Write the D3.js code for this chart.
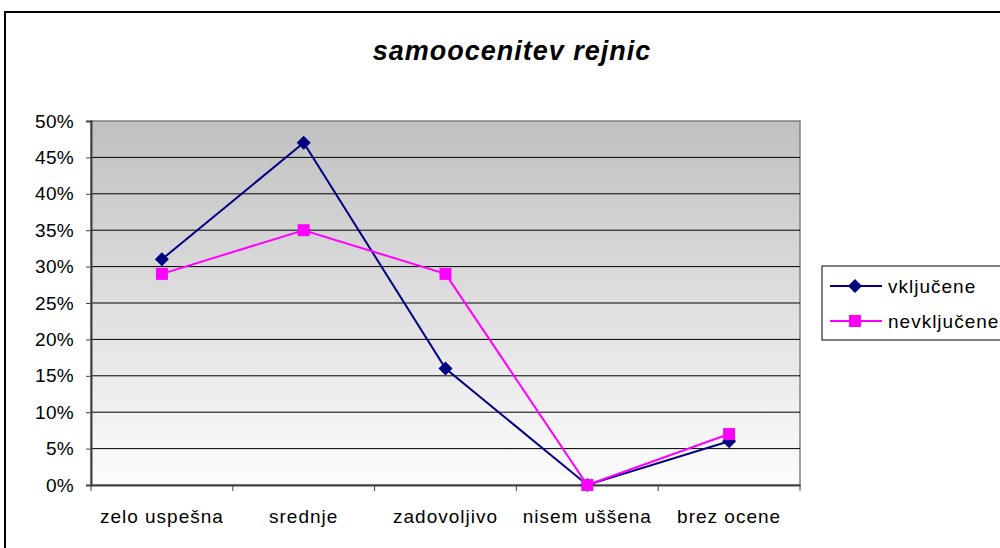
<!DOCTYPE html>
<html>
<head>
<meta charset="utf-8">
<script src="https://cdn.jsdelivr.net/npm/d3@7"></script>
<style>
  body { margin: 0; background: #fff; }
  svg { display: block; font-family: "Liberation Sans", Arial, sans-serif; }
</style>
</head>
<body>
<script>
const categories = ["zelo uspešna", "srednje", "zadovoljivo", "nisem uššena", "brez ocene"]
const vkljucene = [31, 47, 16, 0, 6]
const nevkljucene = [29, 35, 29, 0, 7]
const yTicks = [0, 5, 10, 15, 20, 25, 30, 35, 40, 45, 50]

const series = [
  {name: "vključene", values: vkljucene, color: "#000080", marker: "diamond"},
  {name: "nevključene", values: nevkljucene, color: "#ff00ff", marker: "square"}
]

const width = 1000, height = 548
const plot = {left: 91, right: 800, top: 121, bottom: 485}

const svg = d3.select("body").append("svg")
  .attr("width", width)
  .attr("height", height)

// outer frame
svg.append("rect")
  .attr("x", 5).attr("y", 12)
  .attr("width", 1000).attr("height", 560)
  .attr("fill", "#fff")
  .attr("stroke", "#000")
  .attr("stroke-width", 2)

// gradient background
let grad = svg.append("defs").append("linearGradient")
  .attr("id", "bg").attr("x1", 0).attr("y1", 0).attr("x2", 0).attr("y2", 1)
grad.append("stop").attr("offset", "0%").attr("stop-color", "#c0c0c0")
grad.append("stop").attr("offset", "100%").attr("stop-color", "#fdfdfd")

svg.append("rect")
  .attr("x", plot.left).attr("y", plot.top)
  .attr("width", plot.right - plot.left).attr("height", plot.bottom - plot.top)
  .attr("fill", "url(#bg)")
  .attr("stroke", "#808080")
  .attr("stroke-width", 1.5)

svg.append("text")
  .text("samoocenitev rejnic")
  .attr("x", 512).attr("y", 60)
  .attr("text-anchor", "middle")
  .attr("font-size", "27px")
  .attr("letter-spacing", "1px")
  .attr("font-weight", "bold")
  .attr("font-style", "italic")

let x = d3.scaleBand().domain(categories).range([plot.left, plot.right])
let y = d3.scaleLinear().domain([0, 50]).range([plot.bottom, plot.top])

// gridlines
svg.append("g")
  .selectAll("line")
  .data(yTicks.slice(1, -1))
  .enter()
  .append("line")
  .attr("x1", plot.left).attr("x2", plot.right)
  .attr("y1", d => y(d)).attr("y2", d => y(d))
  .attr("stroke", "#000")
  .attr("stroke-width", 1)

// y axis
let yAxis = svg.append("g")
  .attr("transform", "translate(" + plot.left + ",0)")
  .call(d3.axisLeft(y).tickValues(yTicks).tickSize(5).tickPadding(12).tickFormat(d => d + "%"))
yAxis.select(".domain").attr("stroke", "#404040").attr("stroke-width", 2)
yAxis.selectAll(".tick line").attr("stroke", "#404040")
yAxis.selectAll("text").attr("font-size", "19px").attr("fill", "#000")
  .attr("letter-spacing", "0.3px")
  .attr("font-family", "'Liberation Sans', Arial, sans-serif")

// x axis
let xAxis = svg.append("g")
  .attr("transform", "translate(0," + plot.bottom + ")")
  .call(d3.axisBottom(x).tickSize(0).tickPadding(25))
xAxis.select(".domain").attr("stroke", "#404040").attr("stroke-width", 2)
xAxis.selectAll("text").attr("font-size", "19px").attr("fill", "#000")
  .attr("letter-spacing", "1px")
  .attr("font-family", "'Liberation Sans', Arial, sans-serif")

svg.append("g")
  .selectAll("line")
  .data(d3.range(categories.length + 1))
  .enter()
  .append("line")
  .attr("x1", i => plot.left + i * x.step()).attr("x2", i => plot.left + i * x.step())
  .attr("y1", plot.bottom).attr("y2", plot.bottom + 6)
  .attr("stroke", "#404040")

let line = d3.line()
  .x((d, i) => x(categories[i]) + x.bandwidth() / 2)
  .y(d => y(d))

function drawMarker(g, type, color) {
  if (type === "diamond") {
    g.append("path").attr("d", "M0,-7L7,0L0,7L-7,0Z").attr("fill", color)
  } else {
    g.append("rect").attr("x", -6).attr("y", -6).attr("width", 12).attr("height", 12).attr("fill", color)
  }
}

series.forEach(function(s) {
  svg.append("path")
    .datum(s.values)
    .attr("d", line)
    .attr("fill", "none")
    .attr("stroke", s.color)
    .attr("stroke-width", 2)
})

series.forEach(function(s) {
  s.values.forEach(function(v, i) {
    let g = svg.append("g")
      .attr("transform", "translate(" + (x(categories[i]) + x.bandwidth() / 2) + "," + y(v) + ")")
    drawMarker(g, s.marker, s.color)
  })
})

// legend
svg.append("rect")
  .attr("x", 822).attr("y", 266)
  .attr("width", 200).attr("height", 74)
  .attr("fill", "#fff")
  .attr("stroke", "#000")
  .attr("stroke-width", 1)

series.forEach(function(s, i) {
  let ly = 286 + i * 35
  svg.append("line")
    .attr("x1", 830).attr("x2", 882)
    .attr("y1", ly).attr("y2", ly)
    .attr("stroke", s.color)
    .attr("stroke-width", 2)
  let g = svg.append("g").attr("transform", "translate(855," + ly + ")")
  drawMarker(g, s.marker, s.color)
  svg.append("text")
    .text(s.name)
    .attr("x", 888).attr("y", ly + 7)
    .attr("font-size", "19px")
    .attr("letter-spacing", "1px")
})
</script>
</body>
</html>
